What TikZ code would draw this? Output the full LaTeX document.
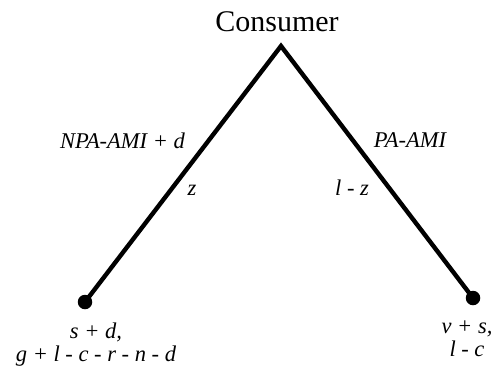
\documentclass[tikz,border=0pt]{standalone}
\usepackage{fontspec}
\setmainfont{Liberation Serif}
\usetikzlibrary{positioning}

\begin{document}
\begin{tikzpicture}[x=1pt,y=-1pt,
  branch/.style={draw=black,line width=4.4pt},
  leaf/.style={circle,fill=black,inner sep=0pt,minimum size=14.5pt},
  lab/.style={font=\fontsize{22.5}{24}\selectfont\itshape,inner sep=0pt,anchor=base},
  pay/.style={font=\fontsize{22.5}{23}\selectfont\itshape,inner sep=0pt,align=center}]

\useasboundingbox (0,0) rectangle (494,368);

% ---- decision node ----
\coordinate (root) at (281,46);
\node[font=\fontsize{30}{32}\selectfont,inner sep=0pt,anchor=base] (cons) at (277,31) {Consumer};

% ---- terminal nodes ----
\node[leaf] (lft) at (85,302) {};
\node[leaf] (rgt) at (473,298) {};

\draw[branch] (lft.center) -- (root) -- (rgt.center);

% ---- branch labels ----
\node[lab] (lup) at (122.5,148) {NPA-AMI + d};
\node[lab] (llo) at (192,195) {z};
\node[lab] (rup) at (410,147) {PA-AMI};
\node[lab] (rlo) at (352,195) {l - z};

% ---- payoffs ----
\node[pay,below=13pt of lft,xshift=11pt] (lpay) {s + d,\\g + l - c - r - n - d};
\node[pay,below=15pt of rgt,xshift=-6pt] (rpay) {v + s,\\l - c};
\end{tikzpicture}
\end{document}
